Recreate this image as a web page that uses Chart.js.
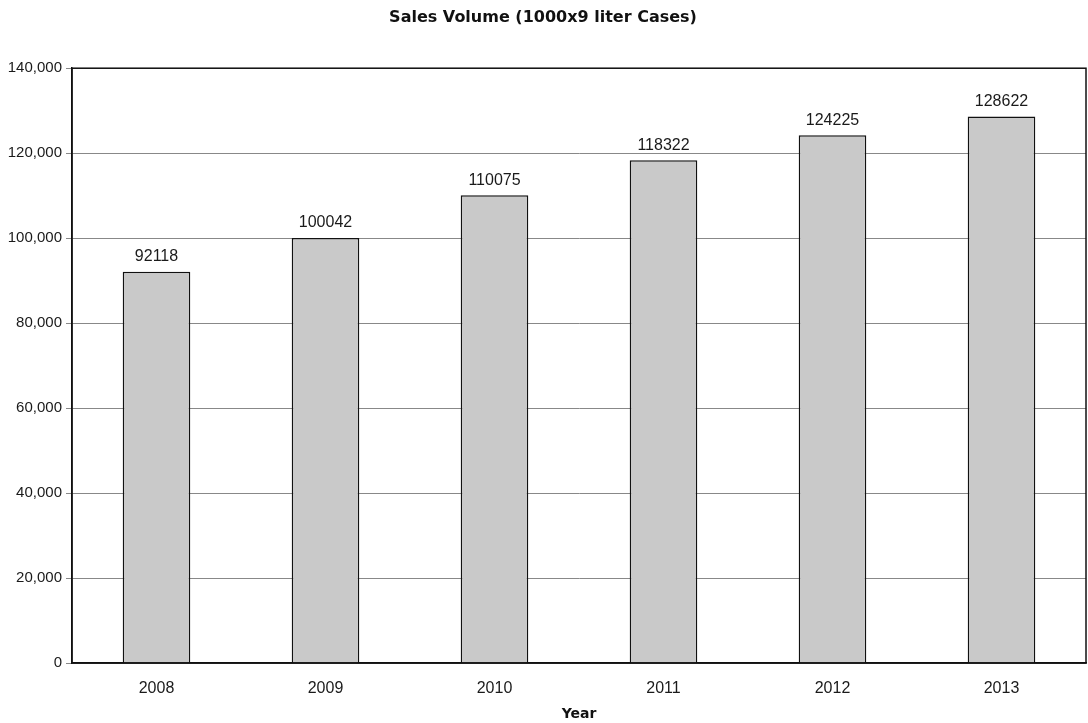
<!DOCTYPE html>
<html>
<head>
<meta charset="utf-8">
<script src="https://cdn.jsdelivr.net/npm/chart.js@4/dist/chart.umd.min.js"></script>
<style>
  html, body { margin: 0; padding: 0; background: #fff; }
  #wrap { width: 1088px; height: 723px; }
</style>
</head>
<body>
<div id="wrap"><canvas id="c" width="1088" height="723"></canvas></div>
<script>
// chart values
const years = ['2008', '2009', '2010', '2011', '2012', '2013'];
const salesVolume = [92118, 100042, 110075, 118322, 124225, 128622];
const yTicks = [0, 20000, 40000, 60000, 80000, 100000, 120000, 140000];

// value labels above each bar
const barLabels = {
    id: 'barLabels',
    afterDatasetsDraw(chart) {
        const ctx = chart.ctx;
        const meta = chart.getDatasetMeta(0);
        ctx.save();
        ctx.font = '16px "Liberation Sans", Arial, sans-serif';
        ctx.fillStyle = '#1a1a1a';
        ctx.textAlign = 'center';
        ctx.textBaseline = 'bottom';
        meta.data.forEach((bar, i) => {
            ctx.fillText(String(salesVolume[i]), bar.x, bar.y - 7);
        });
        ctx.restore();
    }
};

// black box round the plot area
const plotBox = {
    id: 'plotBox',
    afterDraw(chart) {
        const a = chart.chartArea;
        const ctx = chart.ctx;
        ctx.save();
        ctx.strokeStyle = '#111';
        ctx.lineWidth = 1.5;
        ctx.strokeRect(a.left, a.top, a.right - a.left, a.bottom - a.top);
        ctx.restore();
    }
};

new Chart(document.getElementById('c'), {
    type: 'bar',
    data: {
        labels: years,
        datasets: [{
            label: 'Sales Volume',
            data: salesVolume,
            backgroundColor: '#c9c9c9',
            borderColor: '#111',
            borderWidth: 1.5,
            categoryPercentage: 1,
            barPercentage: 0.4
        }]
    },
    options: {
        responsive: false,
        animation: false,
        layout: { padding: { top: 0, right: 2, bottom: 0, left: 0 } },
        plugins: {
            legend: { display: false },
            tooltip: { enabled: false },
            title: {
                display: true,
                text: 'Sales Volume (1000x9 liter Cases)',
                color: '#111',
                font: { family: '"DejaVu Sans", Verdana, sans-serif', size: 16, weight: 'bold' },
                padding: { top: 8, bottom: 41 }
            }
        },
        scales: {
            x: {
                grid: { display: false },
                border: { color: '#111', width: 1.5 },
                ticks: {
                    color: '#1a1a1a',
                    padding: 8,
                    font: { family: '"Liberation Sans", Arial, sans-serif', size: 16 }
                },
                title: {
                    display: true,
                    text: 'Year',
                    color: '#111',
                    font: { family: '"DejaVu Sans", Verdana, sans-serif', size: 14, weight: 'bold' },
                    padding: { top: 0, bottom: 0 }
                }
            },
            y: {
                min: 0,
                max: 140000,
                afterBuildTicks(scale) {
                    scale.ticks = yTicks.map(v => ({ value: v }));
                },
                afterFit(scale) {
                    scale.width = 72;
                },
                grid: { color: '#888', lineWidth: 1, tickLength: 6, drawTicks: true },
                border: { color: '#111', width: 1.5 },
                ticks: {
                    color: '#1a1a1a',
                    padding: 4,
                    font: { family: '"Liberation Sans", Arial, sans-serif', size: 15 },
                    callback: v => v.toLocaleString('en-US')
                }
            }
        }
    },
    plugins: [barLabels, plotBox]
});
</script>
</body>
</html>
